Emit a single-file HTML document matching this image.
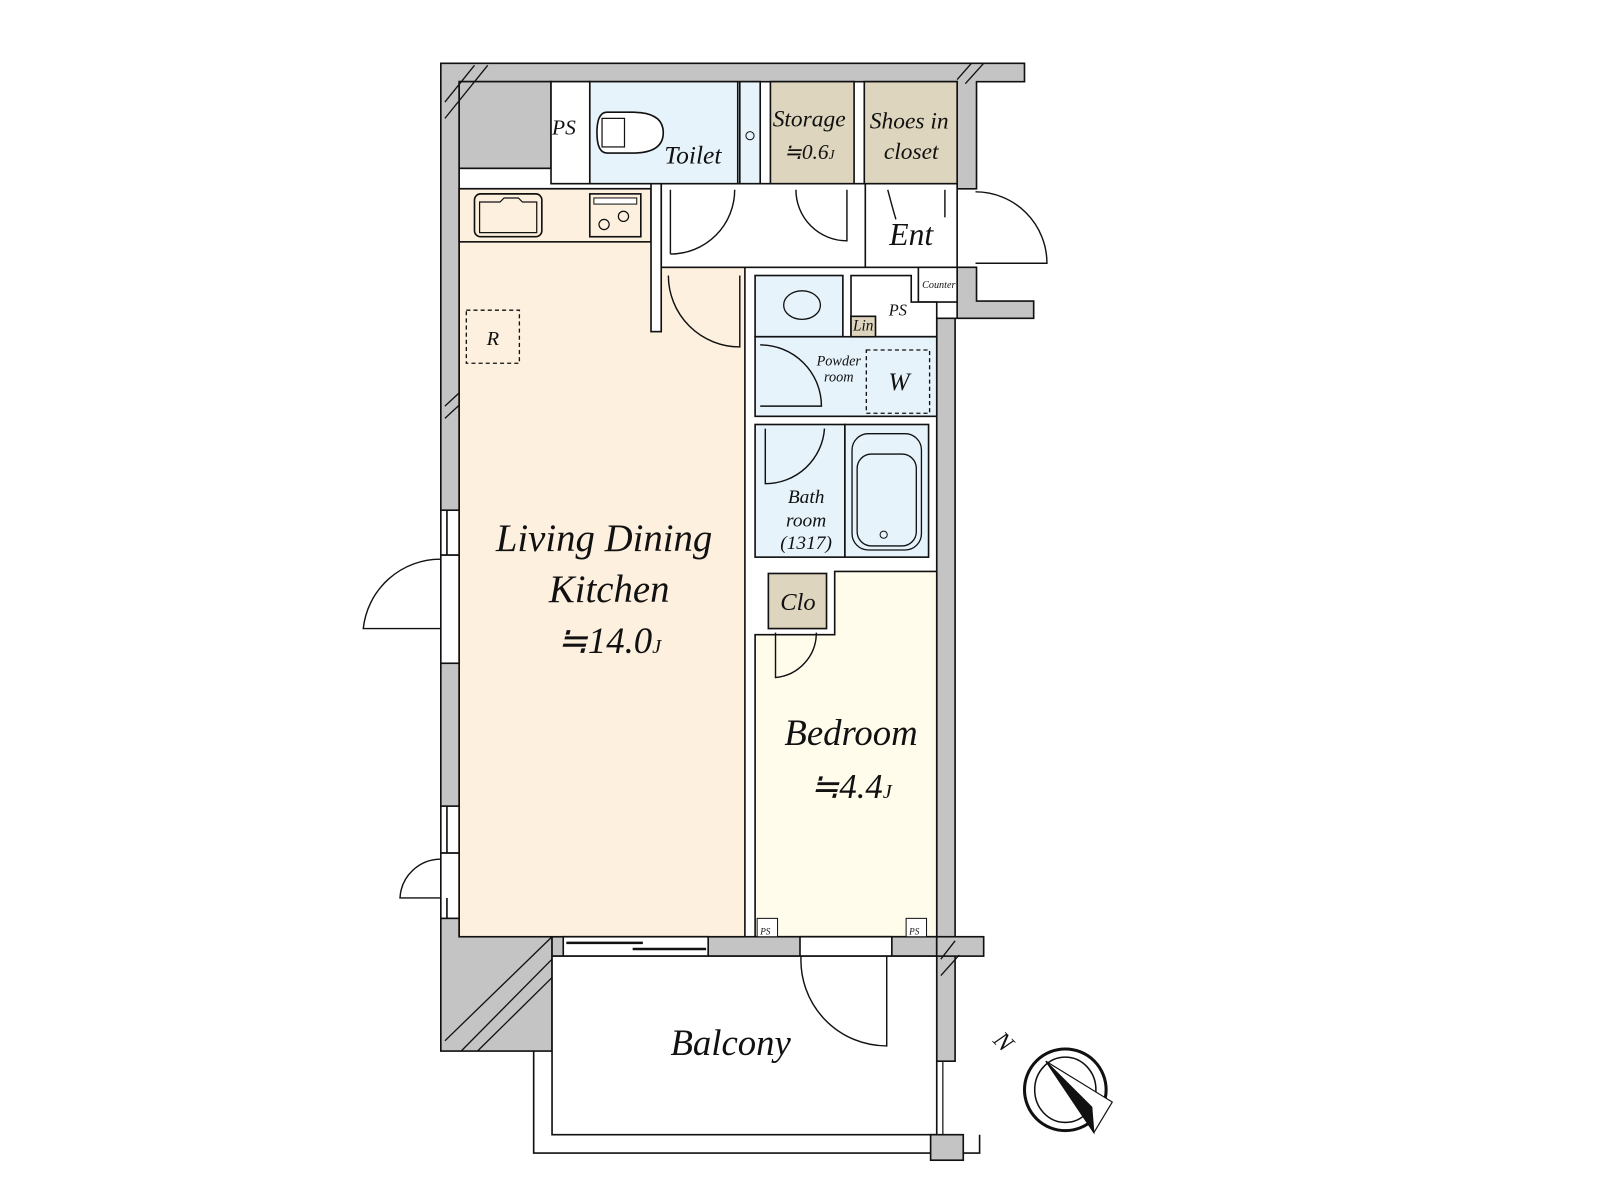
<!DOCTYPE html>
<html><head><meta charset="utf-8"><style>
html,body{margin:0;padding:0;background:#fff;}
svg{display:block;}
text{font-family:"Liberation Serif",serif;font-style:italic;fill:#111;}
</style></head><body>
<svg width="1600" height="1200" viewBox="0 0 1568 1176" xmlns="http://www.w3.org/2000/svg">
<g stroke="#111" stroke-width="1.6">
<path d="M432,62 H1004 V80 H957 V185 H938 V80 H450 V918 H541 V1030 H432 Z" fill="#c4c4c4"/>
<rect x="450" y="80" width="90" height="85" fill="#c4c4c4"/>
<path d="M938,262 H957 V295 H1013 V312 H936 V1040 H918 V312 H938 Z" fill="#c4c4c4"/>
<rect x="541" y="918" width="377" height="19" fill="#c4c4c4"/>
<rect x="918" y="918" width="46" height="19" fill="#c4c4c4"/>
<g stroke-width="1.3" fill="none">
<path d="M436,100 L465,64 M436,116 L478,64"/>
<path d="M938,78 L952,62 M946,82 L964,62"/>
<path d="M436,1020 L541,918 M452,1030 L541,940 M468,1030 L541,958"/>
<path d="M922,940 L936,922 M922,956 L940,936"/>
<path d="M436,398 L450,385 M436,410 L450,397"/>
</g>
<g fill="#fff">
<rect x="432" y="500" width="18" height="44"/><rect x="432" y="544" width="18" height="106"/>
<rect x="432" y="790" width="18" height="46"/><rect x="432" y="836" width="18" height="64"/>
</g>
<path d="M438,500 V544 M438,790 V836 M438,880 V900" fill="none"/>
<rect x="450" y="165" width="195" height="20" fill="#fff"/>
<rect x="540" y="80" width="38" height="100" fill="#fff"/>
<!-- LDK -->
<rect x="450" y="185" width="280" height="733" fill="#fdf0de"/>
<rect x="450" y="185" width="188" height="52" fill="#fdf0de"/>
<!-- hall -->
<rect x="648" y="180" width="290" height="82" fill="#fff"/>
<rect x="638" y="180" width="10" height="145" fill="#fff"/>
<rect x="465" y="190" width="66" height="42" rx="6" fill="#fdf0de"/>
<path d="M470,198 H490 L494,194 H508 L512,198 H526 V228 H470 Z" fill="none" stroke-width="1.2"/>
<rect x="578" y="190" width="50" height="42" fill="#fdf0de"/>
<rect x="582" y="194" width="42" height="6" fill="#fff" stroke-width="1"/>
<circle cx="592" cy="220" r="5" fill="none" stroke-width="1.2"/><circle cx="611" cy="212" r="5" fill="none" stroke-width="1.2"/>
<rect x="457" y="304" width="52" height="52" fill="none" stroke-dasharray="4,3" stroke-width="1.3"/>
<rect x="578" y="80" width="145" height="100" fill="#e6f3fb"/>
<rect x="725" y="80" width="20" height="100" fill="#e6f3fb"/>
<circle cx="735" cy="133" r="4" fill="none" stroke-width="1"/>
<path d="M595,110 H620 Q650,110 650,130 Q650,150 620,150 H595 Q585,150 585,130 Q585,110 595,110 Z" fill="#fff"/>
<rect x="590" y="116" width="22" height="28" fill="none" stroke-width="1.2"/>
<rect x="755" y="80" width="82" height="100" fill="#ddd5bd"/>
<rect x="847" y="80" width="91" height="100" fill="#ddd5bd"/>
<path d="M848,180 V262" fill="none"/>
<rect x="900" y="262" width="38" height="34" fill="#fff"/>
<rect x="740" y="270" width="86" height="60" fill="#e6f3fb"/>
<path d="M834,270 H893 V296 H918 V330 H834 Z" fill="#fff"/>
<rect x="740" y="330" width="178" height="78" fill="#e6f3fb"/>
<ellipse cx="786" cy="299" rx="18" ry="14" fill="none" stroke-width="1.3"/>
<rect x="834" y="310" width="24" height="20" fill="#ddd5bd"/>
<rect x="849" y="343" width="62" height="62" fill="none" stroke-dasharray="4,3" stroke-width="1.3"/>
<rect x="740" y="416" width="88" height="130" fill="#e6f3fb"/>
<rect x="828" y="416" width="82" height="130" fill="#e6f3fb"/>
<rect x="835" y="425" width="68" height="114" rx="16" fill="none" stroke-width="1.3"/>
<rect x="840" y="445" width="58" height="90" rx="14" fill="none" stroke-width="1.3"/>
<circle cx="866" cy="524" r="3.5" fill="none" stroke-width="1"/>
<path d="M818,560 H918 V918 H740 V622 H818 Z" fill="#fffcec"/>
<rect x="753" y="562" width="57" height="54" fill="#ddd5bd"/>
<rect x="742" y="900" width="20" height="18" fill="#fff" stroke-width="1"/>
<rect x="888" y="900" width="20" height="18" fill="#fff" stroke-width="1"/>
<rect x="552" y="918" width="142" height="19" fill="#fff"/>
<path d="M555,924 H630 M620,930 H692" stroke-width="2.5" fill="none"/>
<rect x="784" y="918" width="90" height="19" fill="#fff"/>
<rect x="541" y="937" width="377" height="175" fill="#fff"/>
<path d="M523,1030 V1130 H960 V1112" fill="none"/>
<path d="M918,1040 V1112 M924,1040 V1112" fill="none" stroke-width="1.2"/>
<rect x="912" y="1112" width="32" height="25" fill="#c4c4c4"/>
<!-- doors -->
<g fill="none" stroke-width="1.4">
<path d="M657,249 A63,63 0 0 0 720,186 M657,186 V249"/>
<path d="M780,186 A50,50 0 0 0 830,236 V186"/>
<path d="M870,186 Q875,205 878,215"/><path d="M926,186 V213"/>
<path d="M956,188 A70,70 0 0 1 1026,258 H956"/>
<path d="M655,270 A70,70 0 0 0 725,340 V270"/>
<path d="M745,338 A60,60 0 0 1 805,398 H745"/>
<path d="M750,420 V474 A58,58 0 0 0 808,420"/>
<path d="M760,620 V664 A44,44 0 0 0 800,620"/>
<path d="M785,937 A84,84 0 0 0 869,1025 V937"/>
<path d="M432,616 H356 A76,76 0 0 1 432,548"/>
<path d="M432,880 H392 A40,40 0 0 1 432,842"/>
</g>
</g>
<g stroke="#111" fill="none">
<ellipse cx="1044" cy="1068" rx="40" ry="40" stroke-width="3"/>
<ellipse cx="1044" cy="1068" rx="30" ry="32" stroke-width="1.5"/>
<path d="M1025,1040 L1090,1080 L1072,1110 Z" fill="#fff" stroke-width="1.2"/>
<path d="M1025,1040 L1070,1085 L1072,1110 Z" fill="#111"/>
</g>
<text x="975" y="1030" font-size="24" transform="rotate(45 985 1022)">N</text>
<text x="541" y="132" font-size="21">PS</text>
<text x="651" y="160" font-size="25">Toilet</text>
<text x="793" y="124" font-size="23" text-anchor="middle">Storage</text>
<text x="793" y="156" font-size="21" text-anchor="middle">≒0.6<tspan font-size="13">J</tspan></text>
<text x="891" y="126" font-size="23" text-anchor="middle">Shoes in</text>
<text x="893" y="156" font-size="23" text-anchor="middle">closet</text>
<text x="893" y="240" font-size="31" text-anchor="middle">Ent</text>
<text x="920" y="282" font-size="10" text-anchor="middle">Counter</text>
<text x="871" y="309" font-size="16">PS</text>
<text x="846" y="324" font-size="15" text-anchor="middle">Lin</text>
<text x="822" y="358" font-size="14" text-anchor="middle">Powder</text>
<text x="822" y="374" font-size="14" text-anchor="middle">room</text>
<text x="881" y="382" font-size="25" text-anchor="middle">W</text>
<text x="483" y="338" font-size="20" text-anchor="middle">R</text>
<text x="790" y="493" font-size="19" text-anchor="middle">Bath</text>
<text x="790" y="516" font-size="19" text-anchor="middle">room</text>
<text x="790" y="538" font-size="19" text-anchor="middle">(1317)</text>
<text x="782" y="598" font-size="24" text-anchor="middle">Clo</text>
<text x="592" y="540" font-size="38" text-anchor="middle">Living Dining</text>
<text x="597" y="590" font-size="38" text-anchor="middle">Kitchen</text>
<text x="597" y="640" font-size="36" text-anchor="middle">≒14.0<tspan font-size="20">J</tspan></text>
<text x="834" y="730" font-size="36" text-anchor="middle">Bedroom</text>
<text x="834" y="782" font-size="34" text-anchor="middle">≒4.4<tspan font-size="20">J</tspan></text>
<text x="716" y="1034" font-size="36" text-anchor="middle">Balcony</text>
<text x="745" y="916" font-size="9">PS</text><text x="891" y="916" font-size="9">PS</text>
</svg>
</body></html>
